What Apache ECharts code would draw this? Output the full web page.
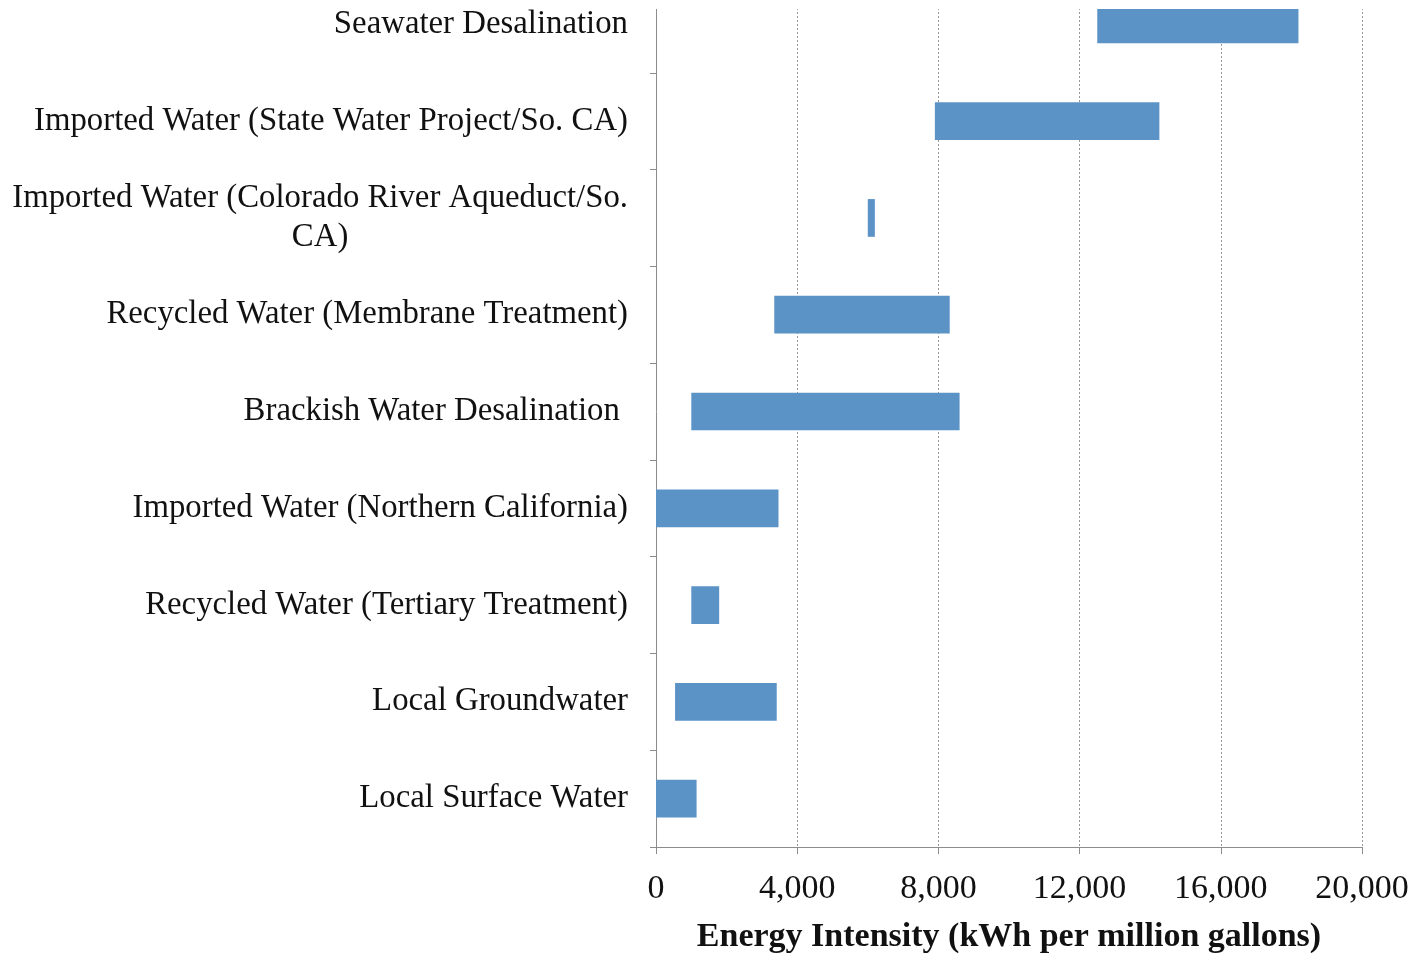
<!DOCTYPE html>
<html>
<head>
<meta charset="utf-8">
<script src="https://cdn.jsdelivr.net/npm/echarts@6/dist/echarts.min.js"></script>
<style>
html,body{margin:0;padding:0;background:#fff;overflow:hidden;width:1415px;height:953px;}
#chart{position:absolute;left:0;top:-24px;width:1415px;height:977px;}
</style>
</head>
<body>
<div id="chart"></div>
<script>
// Categories listed bottom to top
const categories = [
  'Local Surface Water',
  'Local Groundwater',
  'Recycled Water (Tertiary Treatment)',
  'Imported Water (Northern California)',
  'Brackish Water Desalination ',
  'Recycled Water (Membrane Treatment)',
  'Imported Water (Colorado River Aqueduct/So. CA)',
  'Imported Water (State Water Project/So. CA)',
  'Seawater Desalination'
];
// Range low / high (kWh per million gallons)
const lowValues  = [0,    540,  1000, 0,    1000, 3350, 6000, 7900,  12500];
const highValues = [1150, 3420, 1790, 3470, 8600, 8320, 6200, 14260, 18200];
const xTicks = [0, 4000, 8000, 12000, 16000, 20000];

const rangeValues = highValues.map((h, i) => h - lowValues[i]);

const serif = '"Liberation Serif", "Times New Roman", serif';
const chart = echarts.init(document.getElementById('chart'), null, {renderer: 'canvas', width: 1415, height: 977});

chart.setOption({
  backgroundColor: '#ffffff',
  animation: false,
  grid: {left: 656, right: 53, top: 0, bottom: 106, containLabel: false, outerBoundsMode: 'none'},
  xAxis: {
    type: 'value',
    min: xTicks[0],
    max: xTicks[xTicks.length - 1],
    interval: 4000,
    axisLine: {show: true, lineStyle: {color: '#8c8c8c', width: 1}},
    axisTick: {show: true, length: 7, inside: false, lineStyle: {color: '#8c8c8c'}},
    axisLabel: {
      fontFamily: serif, fontSize: 34, color: '#111', margin: 25,
      formatter: v => v.toLocaleString('en-US')
    },
    splitLine: {show: true, lineStyle: {color: '#9a9a9a', type: [2, 2], width: 1}},
    name: 'Energy Intensity (kWh per million gallons)',
    nameLocation: 'middle',
    nameGap: 73,
    nameTextStyle: {fontFamily: serif, fontSize: 34, fontWeight: 'bold', color: '#111'}
  },
  yAxis: {
    type: 'category',
    data: categories,
    axisLine: {show: true, lineStyle: {color: '#8c8c8c', width: 1}},
    axisTick: {show: true, length: 6, lineStyle: {color: '#8c8c8c'}},
    splitLine: {show: false},
    axisLabel: {
      fontFamily: serif, fontSize: 32.8, color: '#111', margin: 28, align: 'right',
      lineHeight: 39,
      formatter: function (v) {
        if (v.indexOf('Colorado') >= 0) {
          return 'Imported Water (Colorado River Aqueduct/So.\n{c|CA)}';
        }
        return v;
      },
      rich: {
        c: {fontFamily: serif, fontSize: 32.8, color: '#111', width: 612, align: 'center', lineHeight: 39}
      }
    }
  },
  series: [
    {
      type: 'bar', stack: 'r', data: lowValues, barWidth: '39%',
      itemStyle: {color: 'transparent'}, silent: true
    },
    {
      type: 'bar', stack: 'r', data: rangeValues, barWidth: '39%',
      itemStyle: {color: '#5b93c7'}
    }
  ],
  graphic: [{
    type: 'rect', left: 640, top: 0, z: 100,
    shape: {width: 775, height: 33},
    style: {fill: '#ffffff'}
  }]
});
</script>
</body>
</html>
